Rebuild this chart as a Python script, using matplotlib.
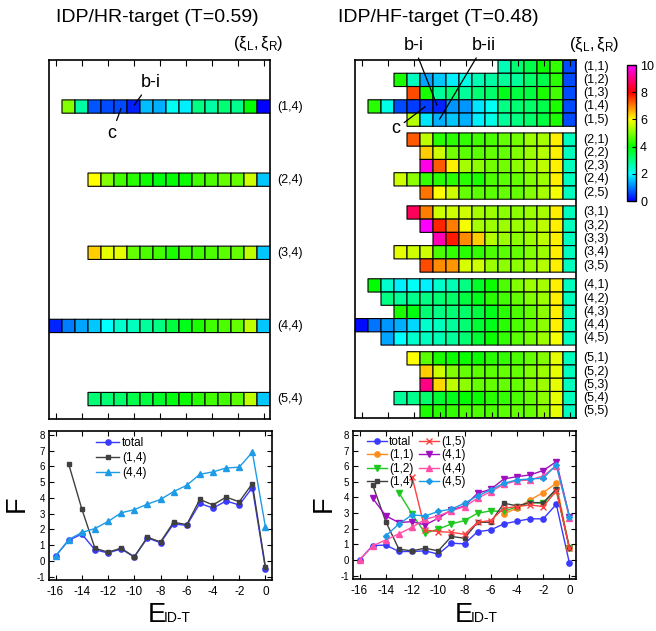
import numpy as np
import matplotlib
matplotlib.use('Agg')
import matplotlib.pyplot as plt
from matplotlib.colors import LinearSegmentedColormap, hsv_to_rgb, Normalize
from matplotlib.cm import ScalarMappable

plt.rcParams['font.family'] = ['Liberation Sans', 'DejaVu Sans']
plt.rcParams['mathtext.fontset'] = 'custom'
plt.rcParams['mathtext.rm'] = 'Liberation Sans'
plt.rcParams['mathtext.it'] = 'Liberation Sans:italic'
plt.rcParams['axes.unicode_minus'] = False

# ---------------- data ----------------
E_ticks = list(range(-16, 1, 2))
F_ticks = list(range(-1, 9))
cbar_ticks = list(range(0, 11, 2))

# heat-map rows (values end at E = 0; first value at E = -(len-1))
hr_xiL = [1, 2, 3, 4, 5]
hr_xiR = [4, 4, 4, 4, 4]
hr_map = [
    [5.0, 2.7, 0.7, 0.6, 0.6, 0.25, 1.5, 1.4, 2.1, 1.9, 3.0, 2.7, 3.1, 2.9, 4.0, 0.0],
    [6.0, 5.0, 4.5, 4.3, 4.1, 3.9, 4.0, 4.1, 4.5, 4.6, 4.8, 4.8, 5.6, 1.6],
    [6.4, 5.8, 5.8, 4.8, 4.6, 4.5, 4.2, 4.5, 4.5, 4.6, 4.7, 4.8, 5.5, 1.6],
    [0.3, 1.0, 1.3, 1.6, 2.0, 2.4, 2.5, 2.8, 3.0, 3.5, 3.8, 4.2, 4.5, 4.6, 4.8, 5.5, 1.6],
    [3.1, 3.1, 3.2, 3.4, 3.5, 3.7, 3.9, 4.1, 4.3, 4.5, 4.5, 4.7, 5.5, 1.6],
]

hf_xiL = [1] * 5 + [2] * 5 + [3] * 5 + [4] * 5 + [5] * 5
hf_xiR = [1, 2, 3, 4, 5] * 5
hf_map = [
    # (1,x)
    [2.6, 3.1, 3.4, 4.1, 4.4, 0.6],
    [4.2, 2.5, 1.3, 1.6, 1.9, 2.2, 2.6, 2.7, 2.8, 2.8, 3.2, 3.4, 4.3, 0.6],
    [7.4, 4.2, 2.8, 3.1, 2.8, 3.1, 3.2, 3.8, 3.5, 3.5, 4.2, 4.5, 0.6],
    [4.3, 2.2, 0.6, 0.5, 0.5, 0.3, 1.2, 1.2, 1.8, 2.1, 3.0, 3.1, 3.2, 3.4, 4.2, 0.6],
    [5.4, 1.8, 1.4, 1.6, 1.4, 1.9, 2.2, 2.8, 3.0, 3.2, 3.5, 4.2, 0.6],
    # (2,x)
    [7.3, 5.5, 4.3, 4.3, 4.4, 4.5, 4.6, 4.8, 4.9, 5.2, 5.3, 6.1, 2.5],
    [6.4, 5.6, 4.9, 4.7, 4.7, 4.8, 4.8, 5.0, 5.2, 5.4, 6.1, 2.5],
    [9.8, 7.3, 6.1, 5.3, 5.1, 4.9, 4.9, 5.1, 5.2, 5.5, 6.1, 2.5],
    [5.6, 5.1, 4.4, 4.3, 4.3, 4.3, 4.2, 4.6, 4.7, 4.8, 5.0, 5.2, 6.1, 2.5],
    [7.1, 6.0, 5.6, 4.8, 4.7, 4.7, 4.8, 4.8, 5.0, 5.3, 5.9, 2.5],
    # (3,x)
    [8.7, 7.0, 5.6, 5.6, 5.6, 5.3, 5.2, 5.1, 5.1, 5.2, 5.3, 6.1, 2.5],
    [10.0, 7.7, 7.0, 5.9, 5.3, 5.2, 5.2, 5.2, 5.2, 5.5, 6.1, 2.5],
    [9.4, 7.8, 6.9, 6.4, 5.4, 5.2, 5.1, 5.2, 5.5, 6.1, 2.5],
    [5.8, 5.6, 5.6, 4.6, 4.4, 4.3, 4.4, 4.6, 4.7, 4.8, 5.0, 5.2, 6.1, 2.5],
    [7.4, 6.9, 6.8, 5.7, 5.6, 5.2, 5.1, 5.1, 5.2, 5.4, 6.1, 2.5],
    # (4,x)
    [4.0, 2.4, 1.9, 2.1, 1.9, 2.4, 2.6, 3.0, 3.7, 4.1, 4.6, 5.0, 5.2, 5.3, 6.1, 2.5],
    [3.0, 2.8, 2.9, 3.0, 3.1, 3.2, 3.5, 3.8, 4.3, 4.5, 4.8, 5.0, 5.2, 6.1, 2.5],
    [4.2, 3.9, 3.1, 3.0, 3.1, 3.2, 3.5, 3.8, 4.3, 4.6, 4.8, 5.1, 6.1, 2.5],
    [0.1, 0.9, 1.2, 1.4, 1.7, 2.4, 2.5, 2.8, 3.1, 3.6, 3.8, 4.3, 4.6, 4.8, 5.1, 6.1, 2.5],
    [1.3, 2.0, 2.4, 2.5, 2.6, 2.8, 3.1, 3.6, 4.1, 4.4, 4.7, 4.9, 5.2, 5.9, 2.5],
    # (5,x)
    [6.0, 4.7, 4.2, 4.1, 4.1, 4.1, 4.3, 4.4, 4.6, 4.8, 5.0, 5.8, 2.5],
    [6.4, 5.6, 5.0, 4.8, 4.7, 4.7, 4.8, 4.8, 5.0, 5.2, 5.8, 2.5],
    [9.0, 6.3, 5.5, 5.1, 4.8, 4.8, 4.8, 4.8, 5.0, 5.2, 5.8, 2.5],
    [2.8, 2.9, 3.2, 3.6, 3.8, 4.0, 4.1, 4.3, 4.4, 4.6, 4.8, 5.1, 5.8, 2.5],
    [4.2, 4.3, 4.4, 4.6, 4.6, 4.6, 4.7, 4.8, 4.8, 5.1, 5.8, 2.5],
]

# F(E) curves (values end at E = 0)
hr_total = [0.3, 1.3, 1.7, 0.7, 0.5, 0.75, 0.25, 1.45, 1.15, 2.35, 2.25, 3.65, 3.35, 3.8, 3.55, 4.65, -0.5]
hr_c14 = [6.15, 3.3, 0.8, 0.55, 0.8, 0.25, 1.5, 1.2, 2.45, 2.3, 3.9, 3.55, 4.05, 3.75, 4.9, -0.4]
hr_c44 = [0.3, 1.35, 1.8, 2.05, 2.5, 3.05, 3.25, 3.6, 3.9, 4.4, 4.8, 5.5, 5.65, 5.9, 5.95, 6.9, 2.15]

hf_total = [0.0, 0.92, 0.95, 0.54, 0.54, 0.58, 0.37, 1.07, 1.03, 1.81, 1.92, 2.31, 2.48, 2.63, 2.63, 3.56, -0.21]
hf_c11 = [2.95, 3.31, 3.84, 4.31, 4.91, 0.75]
hf_c12 = [4.31, 2.94, 1.71, 1.97, 2.3, 2.52, 2.99, 3.14, 3.1, 3.41, 3.67, 3.63, 4.48, 0.75]
hf_c14 = [4.8, 2.45, 0.69, 0.58, 0.75, 0.58, 1.5, 1.39, 2.41, 2.41, 3.63, 3.46, 3.67, 3.67, 4.54, 0.75]
hf_c15 = [5.33, 1.92, 1.81, 1.77, 1.64, 2.41, 2.52, 3.31, 3.41, 3.52, 3.41, 4.42, 0.75]
hf_c41 = [3.95, 2.82, 2.39, 2.45, 2.24, 2.67, 3.2, 3.45, 4.27, 4.52, 5.18, 5.33, 5.44, 5.72, 6.29, 2.77]
hf_c44 = [0.0, 0.9, 1.28, 1.67, 2.09, 2.6, 2.82, 3.14, 3.41, 3.95, 4.37, 4.84, 5.06, 5.12, 5.38, 6.02, 2.7]
hf_c45 = [1.54, 2.3, 2.88, 2.82, 3.1, 3.25, 3.63, 4.1, 4.48, 4.91, 5.12, 5.18, 5.23, 6.08, 2.77]

# ---------------- colormap (blue -> cyan -> green -> yellow -> red -> magenta) ----------------
t = np.linspace(0, 1, 256)
hue = np.mod((240.0 - 300.0 * t) / 360.0, 1.0)
rgb = hsv_to_rgb(np.stack([hue, np.ones_like(t), np.ones_like(t)], axis=1))
cmap = LinearSegmentedColormap.from_list('rainbow10', rgb)
norm = Normalize(vmin=0, vmax=10)

W, H = 656, 631
fig = plt.figure(figsize=(W / 100, H / 100), dpi=100)


def fx(px):
    return px / W


def fy(py):
    return 1 - py / H


def evals(vals):
    n = len(vals)
    return np.arange(-(n - 1), 1)


def style_heat(ax):
    ax.set_xlim(-16.5, 0.5)
    ax.set_ylim(27, 0)
    ax.set_xticks(E_ticks)
    ax.set_xticklabels([])
    ax.set_yticks([])
    ax.tick_params(axis='x', direction='in', top=True, bottom=True, length=4, width=0.8)
    for s in ax.spines.values():
        s.set_linewidth(1.2)


def draw_rows(ax, xiL, xiR, rows):
    for a, b, vals in zip(xiL, xiR, rows):
        y0 = (a - 1) * 5.5 + (b - 1)
        e = evals(vals)
        xe = np.append(e - 0.5, e[-1] + 0.5)
        ax.pcolor(xe, [y0, y0 + 1], np.array([vals]), cmap=cmap, norm=norm,
                  edgecolors='k', linewidth=0.8)
        ax.text(1.0 + 7 / 221, y0 + 0.5, f'({a},{b})', transform=ax.get_yaxis_transform(),
                ha='left', va='center', fontsize=9)


# ---- top-left heatmap
axL = fig.add_axes([fx(49), fy(419), fx(221), (419 - 60) / H])
draw_rows(axL, hr_xiL, hr_xiR, hr_map)
style_heat(axL)
ann = dict(arrowstyle='-', lw=0.9, color='k', shrinkA=1, shrinkB=0)
axL.annotate('b-i', xy=(-9.94, 3.39), xytext=(-8.7, 1.7), fontsize=13, ha='center', va='center',
             arrowprops=ann, annotation_clip=False)
axL.annotate('c', xy=(-10.96, 3.64), xytext=(-11.65, 5.5), fontsize=13, ha='center', va='center',
             arrowprops=ann, annotation_clip=False)

# ---- top-right heatmap
axR = fig.add_axes([fx(355), fy(418), fx(221), (418 - 60) / H])
draw_rows(axR, hf_xiL, hf_xiR, hf_map)
style_heat(axR)
axR.annotate('b-i', xy=(-10.2, 3.39), xytext=(-12.0, -1.1), fontsize=13, ha='center', va='center',
             arrowprops=ann, annotation_clip=False)
axR.annotate('b-ii', xy=(-10.0, 4.47), xytext=(-6.6, -1.1), fontsize=13, ha='center', va='center',
             arrowprops=ann, annotation_clip=False)
axR.annotate('c', xy=(-11.1, 3.52), xytext=(-13.36, 5.2), fontsize=13, ha='center', va='center',
             arrowprops=ann, annotation_clip=False)

# ---- colorbar
cax = fig.add_axes([fx(627), fy(201), fx(9), (201 - 65) / H])
cb = fig.colorbar(ScalarMappable(norm=norm, cmap=cmap), cax=cax, ticks=cbar_ticks)
cb.outline.set_linewidth(1.0)
cax.tick_params(direction='in', length=3, labelsize=9, pad=3)

# ---- titles and headers
fig.text(fx(157), fy(17), 'IDP/HR-target (T=0.59)', fontsize=14, ha='center', va='center')
fig.text(fx(438), fy(17), 'IDP/HF-target (T=0.48)', fontsize=14, ha='center', va='center')
hdr = r'$(\mathregular{\xi_{L}},\mathregular{\xi_{R}})$'
fig.text(fx(258), fy(44), hdr, fontsize=12, ha='center', va='center')
fig.text(fx(594), fy(45), hdr, fontsize=12, ha='center', va='center')


# ---- line plots
def style_line(ax):
    ax.set_xlim(-16.5, 0.5)
    ax.set_ylim(-1.22, 8.25)
    ax.set_xticks(E_ticks)
    ax.set_yticks(F_ticks)
    ax.tick_params(axis='both', direction='in', top=True, right=True, length=3.5, width=0.8)
    ax.tick_params(axis='x', labelsize=8.5, pad=4)
    ax.tick_params(axis='y', labelsize=7, pad=3)
    for s in ax.spines.values():
        s.set_linewidth(1.2)


ax1 = fig.add_axes([fx(49), fy(580), fx(223), (580 - 431) / H])
lk = dict(lw=1.0, ms=3.8)
ax1.plot(evals(hr_total), hr_total, '-o', color='#3a3aff', label='total', **lk)
ax1.plot(evals(hr_c14), hr_c14, '-s', color='#404040', label='(1,4)', ms=3.3, lw=1.0)
ax1.plot(evals(hr_c44), hr_c44, '-^', color='#1e9be6', label='(4,4)', **lk)
style_line(ax1)
ax1.legend(loc='upper left', bbox_to_anchor=(0.17, 1.02), frameon=False, fontsize=8.5,
           handlelength=1.9, handletextpad=0.3, labelspacing=0.25, borderpad=0.3)

ax2 = fig.add_axes([fx(353), fy(579), fx(223), (579 - 431) / H])
series = [
    (hf_total, '-o', '#3a3aff', 'total'),
    (hf_c11, '-o', '#ff8c1a', '(1,1)'),
    (hf_c12, '-v', '#1ec81e', '(1,2)'),
    (hf_c14, '-s', '#404040', '(1,4)'),
    (hf_c15, '-x', '#ff4040', '(1,5)'),
    (hf_c41, '-v', '#a010c0', '(4,1)'),
    (hf_c44, '-^', '#ff4fa8', '(4,4)'),
    (hf_c45, '-D', '#1e9be6', '(4,5)'),
]
for vals, fmt, col, lab in series:
    ms = 3.0 if fmt in ('-s', '-D') else 3.8
    ax2.plot(evals(vals), vals, fmt, color=col, label=lab, lw=1.0, ms=ms)
style_line(ax2)
ax2.legend(loc='upper left', bbox_to_anchor=(0.02, 1.03), frameon=False, fontsize=8.5, ncol=2,
           handlelength=1.7, handletextpad=0.2, labelspacing=0.12, columnspacing=0.4, borderpad=0.3)

# axis labels
fig.text(fx(17), fy(504), 'F', fontsize=19.5, rotation=90, ha='center', va='center')
fig.text(fx(324), fy(504), 'F', fontsize=19.5, rotation=90, ha='center', va='center')
for x0 in (148, 455):
    fig.text(fx(x0), fy(622), 'E', fontsize=19.5, ha='left', va='baseline')
    fig.text(fx(x0 + 16), fy(622), 'ID-T', fontsize=10, ha='left', va='baseline')

fig.savefig('out.png', dpi=100)
